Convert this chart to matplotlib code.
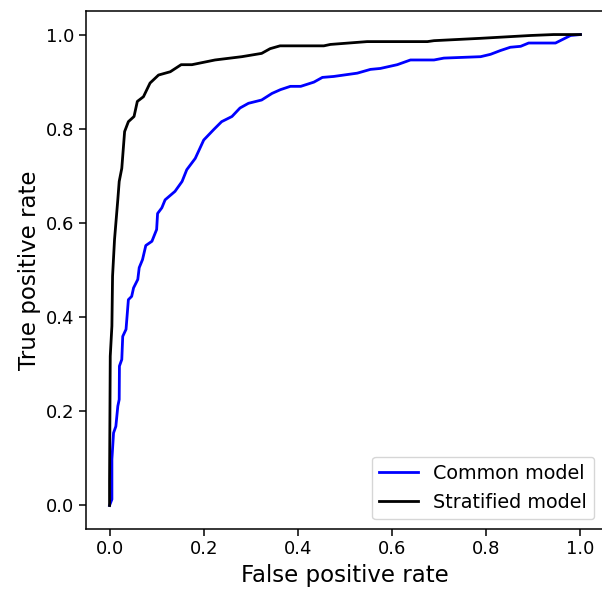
import matplotlib
matplotlib.use('Agg')
import matplotlib.pyplot as plt

# common model ROC
fpr_common = [0.0, 0.005, 0.005, 0.0085, 0.0134, 0.0176, 0.0205, 0.021, 0.026, 0.028,
              0.035, 0.040, 0.047, 0.051, 0.060, 0.063, 0.070, 0.077, 0.090, 0.100,
              0.102, 0.111, 0.118, 0.139, 0.154, 0.164, 0.182, 0.200, 0.221, 0.238,
              0.260, 0.277, 0.295, 0.323, 0.345, 0.363, 0.384, 0.406, 0.434, 0.452,
              0.476, 0.526, 0.554, 0.575, 0.611, 0.639, 0.689, 0.710, 0.788, 0.809,
              0.830, 0.851, 0.873, 0.890, 0.947, 0.979, 1.0]
tpr_common = [0.0, 0.013, 0.098, 0.154, 0.168, 0.211, 0.225, 0.296, 0.310, 0.359,
              0.374, 0.437, 0.444, 0.462, 0.480, 0.505, 0.522, 0.552, 0.561, 0.586,
              0.620, 0.632, 0.649, 0.667, 0.688, 0.713, 0.737, 0.776, 0.798, 0.815,
              0.826, 0.844, 0.854, 0.861, 0.875, 0.883, 0.890, 0.890, 0.899, 0.909,
              0.911, 0.918, 0.926, 0.928, 0.936, 0.946, 0.946, 0.950, 0.953, 0.958,
              0.966, 0.973, 0.975, 0.982, 0.982, 0.998, 1.0]

# stratified model ROC
fpr_strat = [0.0, 0.0, 0.0015, 0.005, 0.0064, 0.0106, 0.0176, 0.0205, 0.026, 0.032,
             0.040, 0.052, 0.059, 0.072, 0.086, 0.104, 0.129, 0.152, 0.175, 0.224,
             0.281, 0.323, 0.341, 0.362, 0.455, 0.469, 0.547, 0.675, 0.689, 0.788,
             0.894, 0.943, 1.0]
tpr_strat = [0.0, 0.05, 0.317, 0.381, 0.487, 0.565, 0.650, 0.688, 0.716, 0.794,
             0.815, 0.826, 0.858, 0.868, 0.897, 0.914, 0.921, 0.936, 0.936, 0.946,
             0.953, 0.960, 0.970, 0.976, 0.976, 0.979, 0.985, 0.985, 0.987, 0.992,
             0.998, 1.0, 1.0]

fig = plt.figure(figsize=(6.02, 5.97), dpi=100)
# axes runs a little past the right edge, like the original crop
ax = fig.add_axes([86/602, 68/597, 518/602, 518/597])

ax.plot(fpr_common, tpr_common, color='blue', lw=2.0, label='Common model')
ax.plot(fpr_strat, tpr_strat, color='black', lw=2.0, label='Stratified model')

ax.set_xlabel('False positive rate', fontsize=16.5)
ax.set_ylabel('True positive rate', fontsize=16.5)
ax.tick_params(labelsize=13, length=4.7, width=1.1)
for sp in ax.spines.values():
    sp.set_linewidth(1.1)
ax.legend(loc='lower right', fontsize=13.8)

plt.savefig('out.png', dpi=100)
